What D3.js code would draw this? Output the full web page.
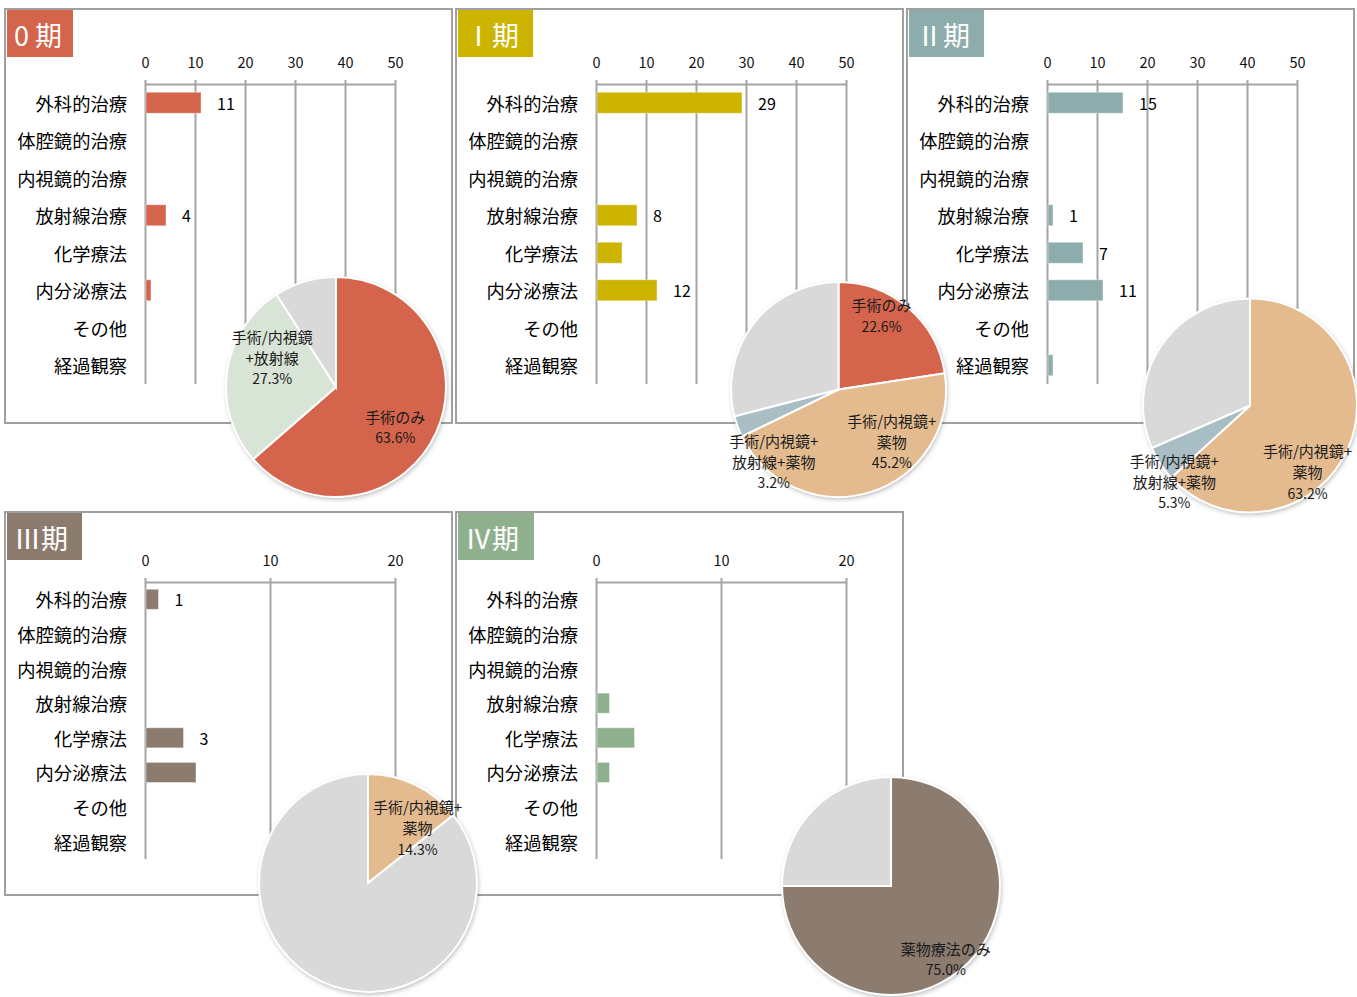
<!DOCTYPE html>
<html><head><meta charset="utf-8">
<script src="https://cdn.jsdelivr.net/npm/d3@7"></script>
<style>body{margin:0;background:#fff}svg{display:block}text{font-family:"Noto Sans CJK JP","Noto Sans",sans-serif}</style>
</head><body><svg id="c" width="1357" height="997"></svg>
<script>
// ---- data ----
const categories = ["外科的治療","体腔鏡的治療","内視鏡的治療","放射線治療","化学療法","内分泌療法","その他","経過観察"];
const stageTitles = ["0 期","Ⅰ期","Ⅱ期","Ⅲ期","Ⅳ期"];
const barValues0 = [11,0,0,4,0,1,0,0];
const barValues1 = [29,0,0,8,5,12,0,0];
const barValues2 = [15,0,0,1,7,11,0,1];
const barValues3 = [1,0,0,0,3,4,0,0];
const barValues4 = [0,0,0,1,3,1,0,0];
const barLabels0 = ["11","","","4","","","",""];
const barLabels1 = ["29","","","8","","12","",""];
const barLabels2 = ["15","","","1","7","11","",""];
const barLabels3 = ["1","","","","3","","",""];
const barLabels4 = ["","","","","","","",""];
const axisMaxTop = 50, axisTicksTop = [0,10,20,30,40,50];
const axisMaxBottom = 20, axisTicksBottom = [0,10,20];
const pieNames0 = ["手術のみ","手術/内視鏡+放射線","その他"];
const pieValues0 = [63.6,27.3,9.1];
const pieText0 = [["手術のみ","63.6%"],["手術/内視鏡","+放射線","27.3%"],null];
const pieNames1 = ["手術のみ","手術/内視鏡+薬物","手術/内視鏡+放射線+薬物","その他"];
const pieValues1 = [22.6,45.2,3.2,29.0];
const pieText1 = [["手術のみ","22.6%"],["手術/内視鏡+","薬物","45.2%"],["手術/内視鏡+","放射線+薬物","3.2%"],null];
const pieNames2 = ["手術/内視鏡+薬物","手術/内視鏡+放射線+薬物","その他"];
const pieValues2 = [63.2,5.3,31.5];
const pieText2 = [["手術/内視鏡+","薬物","63.2%"],["手術/内視鏡+","放射線+薬物","5.3%"],null];
const pieNames3 = ["手術/内視鏡+薬物","その他"];
const pieValues3 = [14.3,85.7];
const pieText3 = [["手術/内視鏡+","薬物","14.3%"],null];
const pieNames4 = ["薬物療法のみ","その他"];
const pieValues4 = [75.0,25.0];
const pieText4 = [["薬物療法のみ","75.0%"],null];

// ---- styles / layout ----
const stageColors = ["#D4644B","#CCB400","#8DADAD","#8C7B6F","#8FB08D"];
const sliceColor = {"手術のみ":"#D4644B","手術/内視鏡+放射線":"#D7E4D6","手術/内視鏡+薬物":"#E4BB8F",
  "手術/内視鏡+放射線+薬物":"#A9BDC5","その他":"#D9D9D9","薬物療法のみ":"#8C7B6F"};
const panels = [
  {x:5,y:9,w:447,h:414,titleW:66,axisOff:75,bottomOff:375,max:axisMaxTop,ticks:axisTicksTop,vals:barValues0,labs:barLabels0,pad:0.44,
   pie:{cx:336,cy:387,r:110,vals:pieValues0,names:pieNames0,text:pieText0,pos:[[124,0.65],[295,0.64]]}},
  {x:456,y:9,w:447,h:414,titleW:75,axisOff:75,bottomOff:375,max:axisMaxTop,ticks:axisTicksTop,vals:barValues1,labs:barLabels1,pad:0.44,
   pie:{cx:838.5,cy:389.5,r:107.5,vals:pieValues1,names:pieNames1,text:pieText1,pos:[[30,0.8],[134,0.69],[222,0.9]]}},
  {x:907,y:9,w:447,h:414,titleW:75,axisOff:75,bottomOff:375,max:axisMaxTop,ticks:axisTicksTop,vals:barValues2,labs:barLabels2,pad:0.44,
   pie:{cx:1250,cy:405.5,r:107,vals:pieValues2,names:pieNames2,text:pieText2,pos:[[139,0.82],[225,1.0]]}},
  {x:5,y:512,w:447,h:383,titleW:75,axisOff:70,bottomOff:347,max:axisMaxBottom,ticks:axisTicksBottom,vals:barValues3,labs:barLabels3,pad:0.42,
   pie:{cx:368,cy:883,r:109,vals:pieValues3,names:pieNames3,text:pieText3,pos:[[42,0.68]]}},
  {x:456,y:512,w:447,h:383,titleW:76,axisOff:70,bottomOff:347,max:axisMaxBottom,ticks:axisTicksBottom,vals:barValues4,labs:barLabels4,pad:0.42,
   pie:{cx:891,cy:886,r:109,vals:pieValues4,names:pieNames4,text:pieText4,pos:[[143,0.835]]}}
];
const gridColor = "#A5A5A5";

const svg = d3.select("#c");
const defs = svg.append("defs");
const f = defs.append("filter").attr("id","sh").attr("x","-20%").attr("y","-20%").attr("width","140%").attr("height","140%");
f.append("feDropShadow").attr("dx",1).attr("dy",2).attr("stdDeviation",2.5).attr("flood-color","#000").attr("flood-opacity",0.3);

panels.forEach((p,i)=>{
  const g = svg.append("g");
  g.append("rect").attr("x",p.x).attr("y",p.y).attr("width",p.w).attr("height",p.h)
    .attr("fill","#fff").attr("stroke","#A0A0A0").attr("stroke-width",2);
  g.append("rect").attr("x",p.x+2).attr("y",p.y+1).attr("width",p.titleW).attr("height",47).attr("fill",stageColors[i]);
  g.append("text").attr("x",p.x+9).attr("y",p.y+37).attr("fill","#fff").attr("font-size",27).text(stageTitles[i]);

  const x0 = p.x+140, axisY = p.y+p.axisOff, bottom = p.y+p.bottomOff;
  const x = d3.scaleLinear().domain([0,p.max]).range([x0,x0+250]);
  const y = d3.scaleBand().domain(categories).range([axisY,bottom]).paddingInner(p.pad).paddingOuter(p.pad/2);

  const ax = g.append("g").attr("transform",`translate(0,${axisY})`)
    .call(d3.axisTop(x).tickValues(p.ticks).tickSizeInner(-(bottom-axisY)).tickSizeOuter(0).tickPadding(16));
  ax.selectAll("path").attr("stroke",gridColor).attr("stroke-width",2);
  ax.selectAll("line").attr("stroke",gridColor).attr("stroke-width",2).attr("y1",-4);
  ax.selectAll("text").attr("font-size",14.5).attr("fill","#111").attr("font-family",'"Noto Sans CJK JP",sans-serif');

  g.selectAll(".cat").data(categories).join("text")
    .attr("x",x0-18).attr("y",d=>y(d)+y.bandwidth()/2).attr("text-anchor","end")
    .attr("dominant-baseline","central").attr("font-size",18.3).attr("fill","#000").text(d=>d);

  const rows = categories.map((c,k)=>({c,v:p.vals[k],l:p.labs[k]}));
  g.selectAll(".bar").data(rows.filter(d=>d.v>0)).join("rect")
    .attr("x",x(0)+1).attr("y",d=>y(d.c)).attr("width",d=>x(d.v)-x(0)).attr("height",y.bandwidth())
    .attr("fill",stageColors[i]).attr("stroke","#fff").attr("stroke-opacity",0.4).attr("stroke-width",1);
  g.selectAll(".vl").data(rows.filter(d=>d.l)).join("text")
    .attr("x",d=>x(d.v)+17).attr("y",d=>y(d.c)+y.bandwidth()/2).attr("dominant-baseline","central")
    .attr("font-size",16).attr("fill","#000").text(d=>d.l);
});

// pies on top
panels.forEach(p=>{
  const q = p.pie;
  const data = q.names.map((n,k)=>({n,v:q.vals[k],t:q.text[k]}));
  const arcs = d3.pie().sort(null).value(d=>d.v)(data);
  const arc = d3.arc().innerRadius(0).outerRadius(q.r);
  const g = svg.append("g").attr("transform",`translate(${q.cx},${q.cy})`);
  g.append("circle").attr("r",q.r).attr("fill","#fff").attr("filter","url(#sh)");
  g.selectAll("path").data(arcs).join("path").attr("d",arc)
    .attr("fill",d=>sliceColor[d.data.n]).attr("stroke","#fff").attr("stroke-width",2);
  let li = 0;
  arcs.forEach(a=>{
    if(!a.data.t) return;
    const [ang,fr] = q.pos[li++];
    const rad = ang*Math.PI/180, rr = fr*q.r;
    const cx = Math.sin(rad)*rr, cy = -Math.cos(rad)*rr;
    const lines = a.data.t, lh = 21;
    const t = g.append("text").attr("text-anchor","middle").attr("fill","#1a1a1a");
    lines.forEach((s,k)=>{
      t.append("tspan").attr("x",cx).attr("y",cy+(k-(lines.length-1)/2)*lh).attr("dominant-baseline","central")
        .attr("font-size",k===lines.length-1?14:15).text(s);
    });
  });
});
</script></body></html>
